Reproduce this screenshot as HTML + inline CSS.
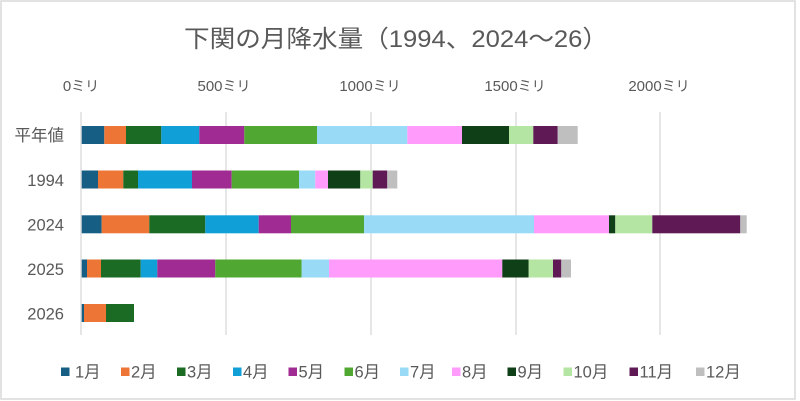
<!DOCTYPE html>
<html>
<head>
<meta charset="utf-8">
<style>
html,body{margin:0;padding:0;background:#fff;}
svg{display:block;}
text{font-family:"Liberation Sans","Noto Sans CJK JP",sans-serif;fill:#595959;}
</style>
</head>
<body>
<svg width="800" height="401" viewBox="0 0 800 401" xmlns="http://www.w3.org/2000/svg">
<rect x="0" y="0" width="800" height="401" fill="#fff"/>
<rect x="1" y="1" width="794" height="398" fill="#fff" stroke="#d9d9d9" stroke-width="1.5"/>

<text x="396" y="47" font-size="24" text-anchor="middle" textLength="424" lengthAdjust="spacingAndGlyphs">下関の月降水量（1994、2024～26）</text>

<g stroke="#d9d9d9" stroke-width="1.3">
<line x1="81" y1="112" x2="81" y2="335"/>
<line x1="226" y1="112" x2="226" y2="335"/>
<line x1="371" y1="112" x2="371" y2="335"/>
<line x1="516" y1="112" x2="516" y2="335"/>
<line x1="660" y1="112" x2="660" y2="335"/>
</g>

<g font-size="15" text-anchor="middle">
<text x="81" y="91">0<tspan font-size="14">ミリ</tspan></text>
<text x="224" y="91">500<tspan font-size="14">ミリ</tspan></text>
<text x="370" y="91">1000<tspan font-size="14">ミリ</tspan></text>
<text x="515" y="91">1500<tspan font-size="14">ミリ</tspan></text>
<text x="659" y="91">2000<tspan font-size="14">ミリ</tspan></text>
</g>

<g font-size="16.5" text-anchor="end">
<text x="64" y="141">平年値</text>
<text x="64" y="186">1994</text>
<text x="64" y="230.5">2024</text>
<text x="64" y="275">2025</text>
<text x="64" y="319.5">2026</text>
</g>

<!-- 平年値 -->
<g>
<rect x="81.7" y="126" width="22.6" height="18" fill="#165E83"/>
<rect x="104.3" y="126" width="21.7" height="18" fill="#ED7637"/>
<rect x="126" y="126" width="35.3" height="18" fill="#1B6B25"/>
<rect x="161.3" y="126" width="38" height="18" fill="#119FD7"/>
<rect x="199.3" y="126" width="45" height="18" fill="#A02B92"/>
<rect x="244.3" y="126" width="72.7" height="18" fill="#50A832"/>
<rect x="317" y="126" width="90.3" height="18" fill="#99DBF6"/>
<rect x="407.3" y="126" width="54.7" height="18" fill="#FF9BFB"/>
<rect x="462" y="126" width="47" height="18" fill="#0F3F16"/>
<rect x="509" y="126" width="24.3" height="18" fill="#B5E5A2"/>
<rect x="533.3" y="126" width="24.4" height="18" fill="#5F1A55"/>
<rect x="557.7" y="126" width="20" height="18" fill="#BFBFBF"/>
</g>
<!-- 1994 -->
<g>
<rect x="81.7" y="170.5" width="16.3" height="18" fill="#165E83"/>
<rect x="98" y="170.5" width="25.3" height="18" fill="#ED7637"/>
<rect x="123.3" y="170.5" width="14.7" height="18" fill="#1B6B25"/>
<rect x="138" y="170.5" width="54" height="18" fill="#119FD7"/>
<rect x="192" y="170.5" width="39.7" height="18" fill="#A02B92"/>
<rect x="231.7" y="170.5" width="67.3" height="18" fill="#50A832"/>
<rect x="299" y="170.5" width="16.3" height="18" fill="#99DBF6"/>
<rect x="315.3" y="170.5" width="12.7" height="18" fill="#FF9BFB"/>
<rect x="328" y="170.5" width="32.3" height="18" fill="#0F3F16"/>
<rect x="360.3" y="170.5" width="12.4" height="18" fill="#B5E5A2"/>
<rect x="372.7" y="170.5" width="14.6" height="18" fill="#5F1A55"/>
<rect x="387.3" y="170.5" width="10" height="18" fill="#BFBFBF"/>
</g>
<!-- 2024 -->
<g>
<rect x="81.7" y="215.3" width="20" height="18" fill="#165E83"/>
<rect x="101.7" y="215.3" width="47.6" height="18" fill="#ED7637"/>
<rect x="149.3" y="215.3" width="56" height="18" fill="#1B6B25"/>
<rect x="205.3" y="215.3" width="53.4" height="18" fill="#119FD7"/>
<rect x="258.7" y="215.3" width="32.3" height="18" fill="#A02B92"/>
<rect x="291" y="215.3" width="73" height="18" fill="#50A832"/>
<rect x="364" y="215.3" width="170" height="18" fill="#99DBF6"/>
<rect x="534" y="215.3" width="75" height="18" fill="#FF9BFB"/>
<rect x="609" y="215.3" width="6.3" height="18" fill="#0F3F16"/>
<rect x="615.3" y="215.3" width="37" height="18" fill="#B5E5A2"/>
<rect x="652.3" y="215.3" width="88" height="18" fill="#5F1A55"/>
<rect x="740.3" y="215.3" width="6.4" height="18" fill="#BFBFBF"/>
</g>
<!-- 2025 -->
<g>
<rect x="81.7" y="259.5" width="5.3" height="18" fill="#165E83"/>
<rect x="87" y="259.5" width="14" height="18" fill="#ED7637"/>
<rect x="101" y="259.5" width="39.7" height="18" fill="#1B6B25"/>
<rect x="140.7" y="259.5" width="16.6" height="18" fill="#119FD7"/>
<rect x="157.3" y="259.5" width="58" height="18" fill="#A02B92"/>
<rect x="215.3" y="259.5" width="86.4" height="18" fill="#50A832"/>
<rect x="301.7" y="259.5" width="27.3" height="18" fill="#99DBF6"/>
<rect x="329" y="259.5" width="173.3" height="18" fill="#FF9BFB"/>
<rect x="502.3" y="259.5" width="26.4" height="18" fill="#0F3F16"/>
<rect x="528.7" y="259.5" width="24.3" height="18" fill="#B5E5A2"/>
<rect x="553" y="259.5" width="8.3" height="18" fill="#5F1A55"/>
<rect x="561.3" y="259.5" width="9.7" height="18" fill="#BFBFBF"/>
</g>
<!-- 2026 -->
<g>
<rect x="81.7" y="304" width="2.3" height="18" fill="#165E83"/>
<rect x="84" y="304" width="22" height="18" fill="#ED7637"/>
<rect x="106" y="304" width="28" height="18" fill="#1B6B25"/>
</g>

<!-- legend -->
<g font-size="16.5">
<rect x="61" y="367.5" width="8.5" height="8.5" fill="#165E83"/><text x="75" y="377.5">1月</text>
<rect x="121" y="367.5" width="8.5" height="8.5" fill="#ED7637"/><text x="131" y="377.5">2月</text>
<rect x="177" y="367.5" width="8.5" height="8.5" fill="#1B6B25"/><text x="187" y="377.5">3月</text>
<rect x="233" y="367.5" width="8.5" height="8.5" fill="#119FD7"/><text x="243" y="377.5">4月</text>
<rect x="288.5" y="367.5" width="8.5" height="8.5" fill="#A02B92"/><text x="298.5" y="377.5">5月</text>
<rect x="344.5" y="367.5" width="8.5" height="8.5" fill="#50A832"/><text x="354.5" y="377.5">6月</text>
<rect x="400" y="367.5" width="8.5" height="8.5" fill="#99DBF6"/><text x="410" y="377.5">7月</text>
<rect x="452" y="367.5" width="8.5" height="8.5" fill="#FF9BFB"/><text x="462" y="377.5">8月</text>
<rect x="507.5" y="367.5" width="8.5" height="8.5" fill="#0F3F16"/><text x="517.5" y="377.5">9月</text>
<rect x="563.5" y="367.5" width="8.5" height="8.5" fill="#B5E5A2"/><text x="573.5" y="377.5">10月</text>
<rect x="629.5" y="367.5" width="8.5" height="8.5" fill="#5F1A55"/><text x="639.5" y="377.5">11月</text>
<rect x="696" y="367.5" width="8.5" height="8.5" fill="#BFBFBF"/><text x="706" y="377.5">12月</text>
</g>
</svg>
</body>
</html>
